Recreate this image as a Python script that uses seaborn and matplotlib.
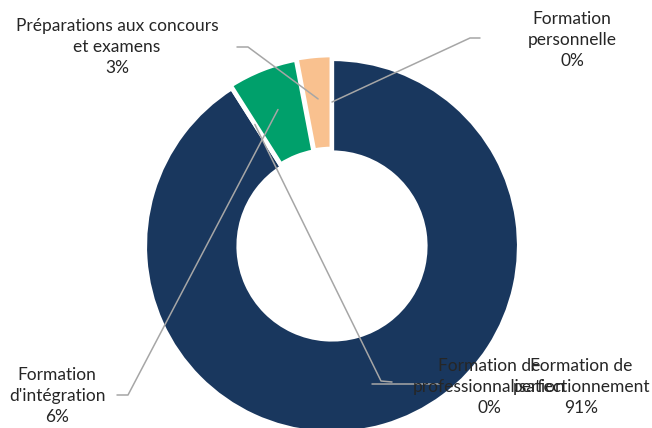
import matplotlib
matplotlib.use("Agg")
import matplotlib.pyplot as plt
import seaborn as sns
import numpy as np

# data
categories = [
    "Formation de\nperfectionnement",
    "Formation de\nprofessionnalisation",
    "Formation\nd'intégration",
    "Préparations aux concours\net examens",
    "Formation\npersonnelle",
]
values = [91, 0, 6, 3, 0]

# style
colors = ["#19375E", "#19375E", "#00A06B", "#F9C18F", "#19375E"]
explode = [0, 0, 0.015, 0.02, 0]

sns.set_theme(style="white")
plt.rcParams["font.family"] = ["Lato", "DejaVu Sans"]

W, H = 652, 428
cx, cy, s = 332, 246, 187  # pie centre and radius in pixels


def px(x, y):
    return (x - cx) / s, (cy - y) / s


fig = plt.figure(figsize=(W / 100, H / 100), dpi=100)
ax = fig.add_axes([0, 0, 1, 1])

wedges, _ = ax.pie(values, colors=colors, startangle=90, counterclock=False,
                   explode=explode, radius=1,
                   wedgeprops=dict(width=0.5, edgecolor="white", linewidth=3))

# label text centres and leader line bends (pixels)
label_pos = [(581, 387), (489, 387), (57, 396), (117, 47), (572, 40)]
bends = [
    [(440, None)],
    [(381, 381), (392, 382)],
    [(128, 395), (117, 395)],
    [(248, 47), (237, 47)],
    [(470, 38), (480, 38)],
]

total = sum(values)
for w, cat, v, lp, bd in zip(wedges, categories, values, label_pos, bends):
    ang = np.deg2rad((w.theta1 + w.theta2) / 2)
    r = 0.77
    ax0 = w.center[0] + r * np.cos(ang)
    ay0 = w.center[1] + r * np.sin(ang)
    xs, ys = [ax0], [ay0]
    for bx, by in bd:
        if by is None:
            xs.append(px(bx, 0)[0])
            ys.append(ay0)
        else:
            p = px(bx, by)
            xs.append(p[0])
            ys.append(p[1])
    ax.plot(xs, ys, color="#A6A6A6", lw=1.1, zorder=5)
    tx, ty = px(*lp)
    ax.text(tx, ty, f"{cat}\n{round(v / total * 100)}%", ha="center", va="center",
            multialignment="center", fontsize=12.5, color="#262626",
            linespacing=1.4, zorder=6)

ax.set_xlim(px(0, 0)[0], px(W, 0)[0])
ax.set_ylim(px(0, H)[1], px(0, 0)[1])
ax.set_aspect("auto")
ax.axis("off")

fig.savefig("out.png", dpi=100)
